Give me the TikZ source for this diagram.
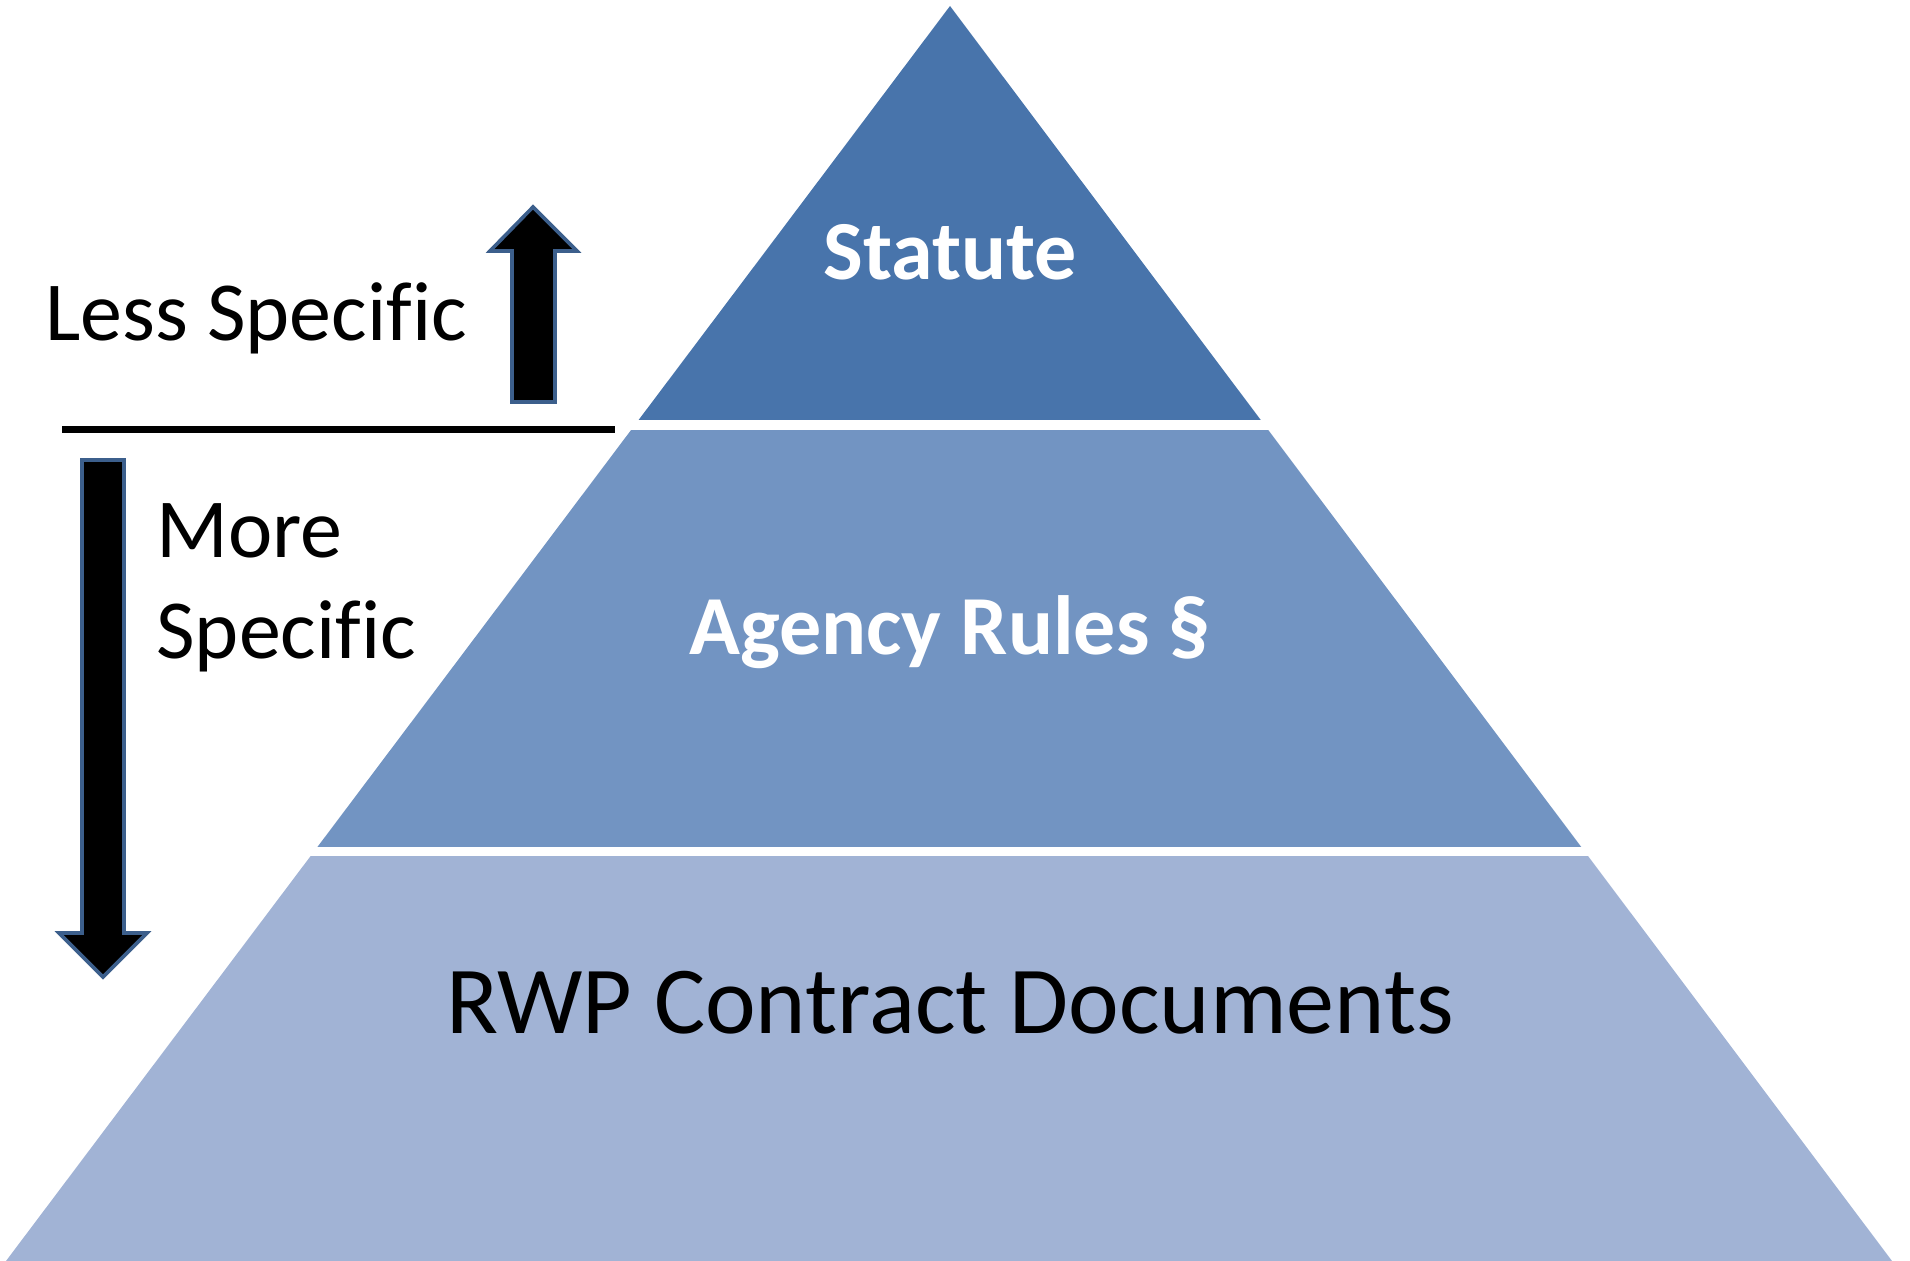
\documentclass[tikz,border=0pt]{standalone}
\usepackage{fontspec}
\setmainfont[Ligatures=NoCommon]{Carlito}
\definecolor{tieronecol}{HTML}{4874AB}
\definecolor{tiertwocol}{HTML}{7294C2}
\definecolor{tierthreecol}{HTML}{A1B3D5}
\definecolor{arrowedge}{HTML}{3C5F8C}
\tikzset{
	tiertext/.style={font=\fontsize{42}{50}\selectfont\bfseries,text=white,anchor=base,inner sep=0pt},
	sidetext/.style={font=\fontsize{42}{50}\selectfont,anchor=base west,inner sep=0pt},
	bigarrow/.style={fill=black,draw=arrowedge,line width=1.8pt,line join=miter}
}
\begin{document}
\begin{tikzpicture}[x=0.5pt,y=-0.5pt]
		\useasboundingbox (0,0) rectangle (1910,1261);
		\def \apexx{950};
		\def \apexy{6};
		% pyramid, cut into three tiers
		\begin{scope}
		\clip (\apexx,\apexy) -- (6,1261) -- (1892,1261) -- cycle;
		\fill[tieronecol] (0,0) rectangle (1910,420);
		\fill[tiertwocol] (0,430) rectangle (1910,847);
		\fill[tierthreecol] (0,856) rectangle (1910,1261);
		\end{scope}
		\node[tiertext] (statute) at (\apexx,280) {Statute};
		\node[tiertext] (agency) at (\apexx,654) {Agency Rules §};
		\node[tiertext,font=\fontsize{48}{58}\selectfont,text=black] (rwp) at (\apexx,1033) {RWP Contract Documents};
		% left side
		\node[sidetext] (less) at (45,341) {Less Specific};
		\node[sidetext] (more) at (156,557) {More};
		\node[sidetext] (specific) at (156,658) {Specific};
		\draw[line width=3.5pt] (62,430) -- (615,430);
		\draw[bigarrow] (512,402) -- (512,251) -- (490,251) -- (533,207) -- (577,251) -- (555,251) -- (555,402) -- cycle;
		\draw[bigarrow] (82,460) -- (82,933) -- (59,933) -- (103,977) -- (147,933) -- (124,933) -- (124,460) -- cycle;
\end{tikzpicture}
\end{document}
